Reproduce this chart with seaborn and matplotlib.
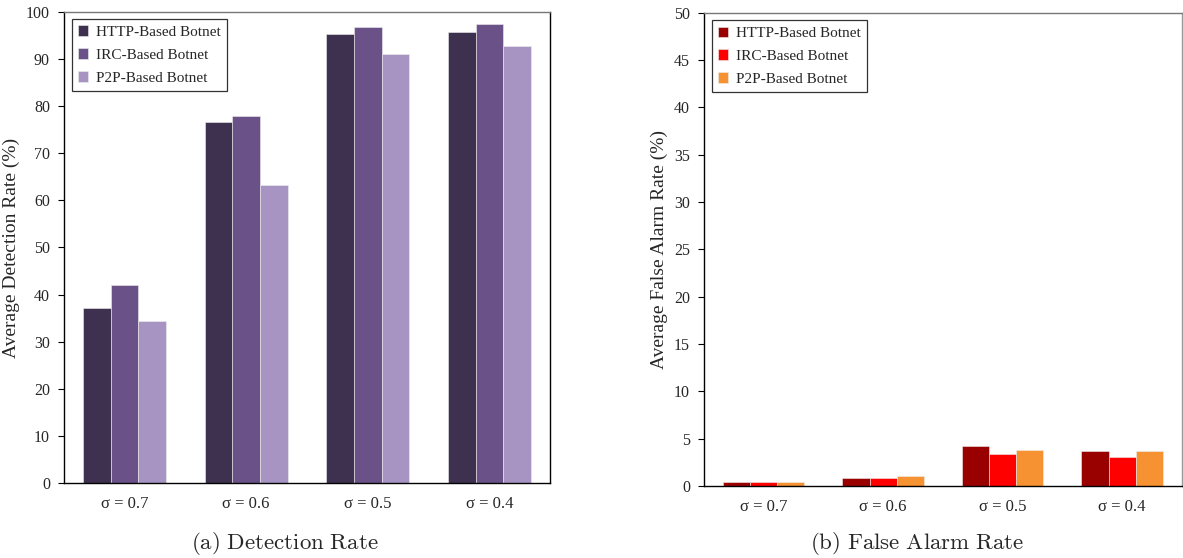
import matplotlib
matplotlib.use("Agg")
import pandas as pd
import matplotlib.pyplot as plt
import seaborn as sns

sigmas = ["σ = 0.7", "σ = 0.6", "σ = 0.5", "σ = 0.4"]
botnets = ["HTTP-Based Botnet", "IRC-Based Botnet", "P2P-Based Botnet"]

# detection rate (%)
det_http = [37.2, 76.6, 95.2, 95.8]
det_irc = [42.0, 77.8, 96.8, 97.4]
det_p2p = [34.5, 63.3, 91.0, 92.8]

# false alarm rate (%)
fa_http = [0.4, 0.9, 4.2, 3.7]
fa_irc = [0.4, 0.8, 3.4, 3.1]
fa_p2p = [0.4, 1.1, 3.8, 3.7]

det_colors = ["#3e3150", "#6a5288", "#a794c3"]
fa_colors = ["#990000", "#ff0000", "#f79232"]


def to_long(a, b, c):
    rows = []
    for name, vals in zip(botnets, [a, b, c]):
        for s, v in zip(sigmas, vals):
            rows.append({"sigma": s, "botnet": name, "value": v})
    return pd.DataFrame(rows)


sns.set_style("white")
plt.rcParams["font.family"] = ["Liberation Serif", "DejaVu Serif"]
plt.rcParams["mathtext.fontset"] = "cm"

fig = plt.figure(figsize=(11.83, 5.58), dpi=100)
ax1 = fig.add_axes([0.054, 0.134, 0.411, 0.845])
ax2 = fig.add_axes([0.595, 0.129, 0.404, 0.848])


def draw_panel(ax, df, colors, ymax, step, ylabel):
    sns.barplot(data=df, x="sigma", y="value", hue="botnet", palette=colors,
                width=0.68, saturation=1, errorbar=None, ax=ax,
                edgecolor="#eeeeee", linewidth=0.4)
    ax.set_ylim(0, ymax)
    ax.set_yticks(range(0, ymax + 1, step))
    ax.set_xlabel("")
    ax.set_ylabel(ylabel, fontsize=14)
    ax.tick_params(axis="y", direction="out", length=4, width=0.8, left=True,
                   labelsize=11.5, pad=6, color="black")
    ax.tick_params(axis="x", length=0, labelsize=12, pad=9)
    for sp in ax.spines.values():
        sp.set_color("black")
        sp.set_linewidth(1.0)
    ax.spines["top"].set_color("#777777")
    leg = ax.legend(loc="upper left", fontsize=11, frameon=True, fancybox=False,
                    handlelength=0.7, handleheight=0.7, handletextpad=0.5,
                    borderpad=0.4, labelspacing=0.6, borderaxespad=0.5)
    leg.get_frame().set_edgecolor("black")
    leg.get_frame().set_linewidth(0.9)


draw_panel(ax1, to_long(det_http, det_irc, det_p2p), det_colors, 100, 10,
           "Average Detection Rate (%)")
draw_panel(ax2, to_long(fa_http, fa_irc, fa_p2p), fa_colors, 50, 5,
           "Average False Alarm Rate (%)")
ax2.spines["right"].set_color("#999999")

fig.text(0.241, 0.017, r"$\mathrm{(a)\ Detection\ Rate}$", ha="center", fontsize=16.5)
fig.text(0.775, 0.017, r"$\mathrm{(b)\ False\ Alarm\ Rate}$", ha="center", fontsize=16.5)

fig.savefig("out.png", dpi=100)
